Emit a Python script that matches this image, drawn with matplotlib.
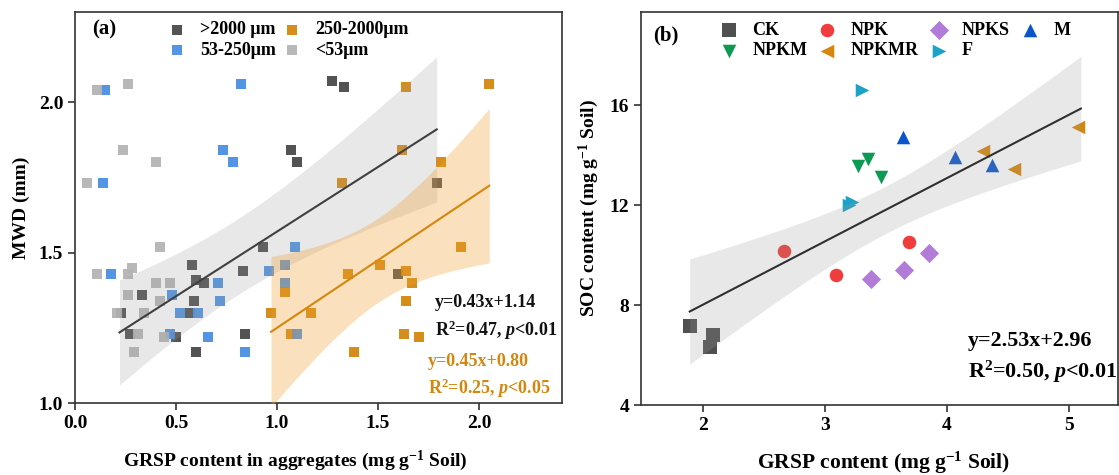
import numpy as np
import matplotlib
matplotlib.use('Agg')
import matplotlib.pyplot as plt

plt.rcParams['font.family'] = ['Liberation Serif', 'DejaVu Serif']
plt.rcParams['font.weight'] = 'bold'
plt.rcParams['mathtext.fontset'] = 'custom'
plt.rcParams['mathtext.rm'] = 'Liberation Serif:bold'
plt.rcParams['mathtext.it'] = 'Liberation Serif:italic:bold'
plt.rcParams['mathtext.bf'] = 'Liberation Serif:bold'
plt.rcParams['mathtext.default'] = 'rm'

# ---------------- Panel (a) data ----------------
a_gt2000_x = [1.27, 1.33, 1.07, 1.10, 1.79, 0.58, 0.83, 0.93, 0.60, 0.64, 0.33, 0.59, 0.23, 0.57, 0.27, 0.50, 0.84, 0.60, 1.60]
a_gt2000_y = [2.07, 2.05, 1.84, 1.80, 1.73, 1.46, 1.44, 1.52, 1.41, 1.40, 1.36, 1.34, 1.30, 1.30, 1.23, 1.22, 1.23, 1.17, 1.43]
a_250_x = [1.32, 1.64, 2.05, 1.62, 1.81, 1.04, 0.97, 1.17, 1.07, 1.35, 1.38, 1.91, 1.51, 1.64, 1.67, 1.64, 1.63, 1.70]
a_250_y = [1.73, 2.05, 2.06, 1.84, 1.80, 1.37, 1.30, 1.30, 1.23, 1.43, 1.17, 1.52, 1.46, 1.44, 1.40, 1.34, 1.23, 1.22]
a_53_x = [0.15, 0.82, 0.73, 0.78, 0.14, 0.18, 1.09, 0.96, 1.04, 1.04, 0.71, 0.48, 0.72, 0.52, 0.61, 0.47, 0.66, 1.10, 0.84]
a_53_y = [2.04, 2.06, 1.84, 1.80, 1.73, 1.43, 1.52, 1.44, 1.46, 1.40, 1.40, 1.36, 1.34, 1.30, 1.30, 1.23, 1.22, 1.23, 1.17]
a_lt53_x = [0.11, 0.26, 0.24, 0.40, 0.06, 0.11, 0.42, 0.28, 0.26, 0.40, 0.47, 0.26, 0.42, 0.21, 0.34, 0.31, 0.44, 0.29]
a_lt53_y = [2.04, 2.06, 1.84, 1.80, 1.73, 1.43, 1.52, 1.45, 1.43, 1.40, 1.40, 1.36, 1.34, 1.30, 1.30, 1.23, 1.22, 1.17]

a_labels = ['>2000 μm', '250-2000μm', '53-250μm', '<53μm']
a_colors = ['#4a4a4a', '#d4870c', '#4a8fe3', '#b4b4b4']

# regression lines (slope, intercept, x-range) and CI band shape (x0, a, b)
a_fit_gray = (0.43, 1.14, 0.22, 1.79)
a_band_gray = (0.80, 0.016, 0.0433)
a_fit_orange = (0.45, 0.80, 0.97, 2.05)
a_band_orange = (1.50, 0.0196, 0.153)

# ---------------- Panel (b) data ----------------
b_groups = ['CK', 'NPK', 'NPKS', 'M', 'NPKM', 'NPKMR', 'F']
b_x = {
    'CK': [1.89, 2.08, 2.06],
    'NPK': [2.66, 3.09, 3.69],
    'NPKS': [3.38, 3.65, 3.85],
    'M': [3.64, 4.07, 4.37],
    'NPKM': [3.27, 3.35, 3.46],
    'NPKMR': [4.30, 4.55, 5.08],
    'F': [3.30, 3.20, 3.22],
}
b_y = {
    'CK': [7.18, 6.82, 6.33],
    'NPK': [10.18, 9.20, 10.52],
    'NPKS': [9.05, 9.41, 10.10],
    'M': [14.72, 13.92, 13.60],
    'NPKM': [13.56, 13.84, 13.11],
    'NPKMR': [14.16, 13.44, 15.12],
    'F': [16.60, 12.00, 12.12],
}
b_colors = {'CK': '#505050', 'NPK': '#f03c3c', 'NPKS': '#b07cd8', 'M': '#0a55cc',
            'NPKM': '#0c9a52', 'NPKMR': '#d4870c', 'F': '#1aa2c8'}
b_markers = {'CK': 's', 'NPK': 'o', 'NPKS': 'D', 'M': '^', 'NPKM': 'v', 'NPKMR': '<', 'F': '>'}
b_fit = (2.53, 2.96, 1.89, 5.10)
b_band = (3.50, 0.90, 1.36)

W, H = 1119, 475
fig = plt.figure(figsize=(W / 100, H / 100), dpi=100)
ax1 = fig.add_axes([75 / W, (H - 403) / H, 487 / W, 391 / H])
ax2 = fig.add_axes([641 / W, (H - 405) / H, 477 / W, 393 / H])


def band(ax, fit, shape, color, alpha, lcolor):
    s, c, x1, x2 = fit
    x0, a, b = shape
    xs = np.linspace(x1, x2, 200)
    yl = s * xs + c
    hw = np.sqrt(a + b * (xs - x0) ** 2)
    ax.fill_between(xs, yl - hw, yl + hw, color=color, alpha=alpha, lw=0, zorder=3)
    ax.plot(xs, yl, color=lcolor, lw=1.5, zorder=4)


# ---- panel a ----
series = [(a_gt2000_x, a_gt2000_y), (a_250_x, a_250_y), (a_53_x, a_53_y), (a_lt53_x, a_lt53_y)]
handles = []
for (xs, ys), lab, col in zip(series, a_labels, a_colors):
    h = ax1.scatter(xs, ys, marker='s', s=62, color=col, lw=0, alpha=0.95, zorder=2, label=lab)
    handles.append(h)
band(ax1, a_fit_gray, a_band_gray, '#9a9a9a', 0.22, '#404040')
band(ax1, a_fit_orange, a_band_orange, '#f0a030', 0.32, '#d4870c')

ax1.set_xlim(0, 2.41)
ax1.set_ylim(1.0, 2.30)
ax1.set_xticks([0.0, 0.5, 1.0, 1.5, 2.0])
ax1.set_yticks([1.0, 1.5, 2.0])
ax1.set_xticklabels(['0.0', '0.5', '1.0', '1.5', '2.0'])
ax1.set_yticklabels(['1.0', '1.5', '2.0'])
ax1.set_xlabel('GRSP content in aggregates (mg g$^{-1}$ Soil)', fontsize=14, fontweight='bold')
ax1.xaxis.set_label_coords(0.452, -0.118)
ax1.set_ylabel('MWD (mm)', fontsize=14, fontweight='bold', labelpad=6)
ax1.text(0.035, 0.955, '(a)', transform=ax1.transAxes, fontsize=15, fontweight='bold', va='center')
ax1.legend([handles[0], handles[2], handles[1], handles[3]],
           [a_labels[0], a_labels[2], a_labels[1], a_labels[3]],
           ncol=2, loc='upper left', bbox_to_anchor=(0.161, 1.013), frameon=False,
           handlelength=1.0, handletextpad=0.8, columnspacing=0.35,
           labelspacing=0.2, borderpad=0.3, prop={'weight': 'bold', 'size': 13})
tk = dict(transform=ax1.transAxes, fontsize=13, fontweight='bold', va='center')
ax1.text(0.739, 0.258, 'y=0.43x+1.14', color='#111111', **tk)
ax1.text(0.739, 0.187, 'R$^{2}$=0.47, $\\mathit{p}$<0.01', color='#111111', **tk)
ax1.text(0.725, 0.105, 'y=0.45x+0.80', color='#d4870c', **tk)
ax1.text(0.725, 0.038, 'R$^{2}$=0.25, $\\mathit{p}$<0.05', color='#d4870c', **tk)

# ---- panel b ----
bh = {}
for g in b_groups:
    bh[g] = ax2.scatter(b_x[g], b_y[g], marker=b_markers[g], s=95, color=b_colors[g], lw=0, zorder=2, label=g)
band(ax2, b_fit, b_band, '#9a9a9a', 0.22, '#303030')
ax2.set_xlim(1.49, 5.405)
ax2.set_ylim(4, 19.73)
ax2.set_xticks([2, 3, 4, 5])
ax2.set_yticks([4, 8, 12, 16])
ax2.set_xlabel('GRSP content (mg g$^{-1}$ Soil)', fontsize=15.5, fontweight='bold')
ax2.xaxis.set_label_coords(0.508, -0.115)
ax2.set_ylabel('SOC content (mg g$^{-1}$ Soil)', fontsize=14, fontweight='bold', labelpad=6)
ax2.text(0.025, 0.94, '(b)', transform=ax2.transAxes, fontsize=15, fontweight='bold', va='center')
order = ['CK', 'NPKM', 'NPK', 'NPKMR', 'NPKS', 'F', 'M']
ax2.legend([bh[g] for g in order], order, ncol=4, loc='upper left', bbox_to_anchor=(0.135, 1.012),
           frameon=False, handlelength=1.0, handletextpad=0.8, columnspacing=0.6,
           labelspacing=0.2, borderpad=0.3, prop={'weight': 'bold', 'size': 13})
tb = dict(transform=ax2.transAxes, fontsize=15.8, fontweight='bold', va='center')
ax2.text(0.686, 0.163, 'y=2.53x+2.96', **tb)
ax2.text(0.686, 0.084, 'R$^{2}$=0.50, $\\mathit{p}$<0.01', **tb)

for ax in (ax1, ax2):
    for sp in ax.spines.values():
        sp.set_linewidth(1.2)
        sp.set_color('#333333')
    ax.tick_params(direction='out', length=5, width=1.2, labelsize=14, color='#333333')
    for lab in ax.get_xticklabels() + ax.get_yticklabels():
        lab.set_fontweight('bold')

fig.savefig('out.png', dpi=100)
